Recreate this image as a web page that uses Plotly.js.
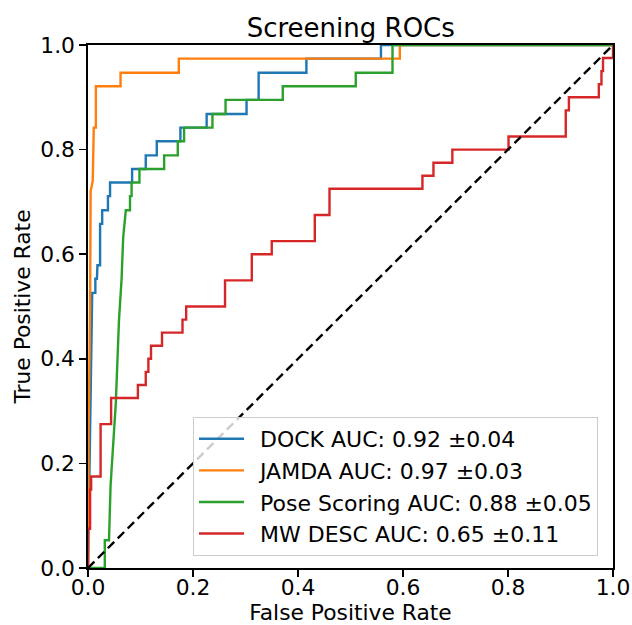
<!DOCTYPE html>
<html>
<head>
<meta charset="utf-8">
<script src="https://cdn.plot.ly/plotly-3.0.1.min.js"></script>
<style>html,body{margin:0;padding:0;background:#fff;}#chart{width:632px;height:625px;}</style>
</head>
<body>
<div id="chart"></div>
<script>
// Series names / legend labels
const seriesNames = ["DOCK AUC: 0.92 ±0.04", "JAMDA AUC: 0.97 ±0.03", "Pose Scoring AUC: 0.88 ±0.05", "MW DESC AUC: 0.65 ±0.11"];
const seriesColors = ["#1f77b4", "#ff7f0e", "#2ca02c", "#d62728"];

// DOCK ROC
const dockFpr = [0, 0.007, 0.008, 0.014, 0.014, 0.017, 0.018, 0.023, 0.023, 0.027, 0.027, 0.038, 0.038, 0.042, 0.042, 0.084, 0.084, 0.110, 0.110, 0.131, 0.131, 0.176, 0.176, 0.226, 0.226, 0.302, 0.302, 0.325, 0.325, 0.416, 0.416, 0.558, 0.558, 1.0];
const dockTpr = [0, 0.447, 0.526, 0.526, 0.553, 0.553, 0.579, 0.579, 0.658, 0.658, 0.684, 0.684, 0.711, 0.711, 0.737, 0.737, 0.763, 0.763, 0.789, 0.789, 0.816, 0.816, 0.842, 0.842, 0.868, 0.868, 0.895, 0.895, 0.947, 0.947, 0.974, 0.974, 1.0, 1.0];

// JAMDA ROC
const jamdaFpr = [0, 0.001, 0.004, 0.005, 0.009, 0.011, 0.015, 0.015, 0.062, 0.062, 0.173, 0.173, 0.594, 0.594, 1.0];
const jamdaTpr = [0, 0.25, 0.5, 0.72, 0.74, 0.842, 0.842, 0.921, 0.921, 0.947, 0.947, 0.974, 0.974, 1.0, 1.0];

// Pose Scoring ROC
const poseFpr = [0, 0.032, 0.032, 0.040, 0.043, 0.048, 0.053, 0.059, 0.064, 0.067, 0.072, 0.080, 0.080, 0.083, 0.083, 0.098, 0.098, 0.145, 0.145, 0.171, 0.171, 0.183, 0.183, 0.237, 0.237, 0.262, 0.262, 0.371, 0.371, 0.510, 0.510, 0.580, 0.580, 1.0];
const poseTpr = [0, 0, 0.053, 0.053, 0.158, 0.25, 0.316, 0.474, 0.553, 0.632, 0.684, 0.684, 0.711, 0.711, 0.737, 0.737, 0.763, 0.763, 0.789, 0.789, 0.816, 0.816, 0.842, 0.842, 0.868, 0.868, 0.895, 0.895, 0.921, 0.921, 0.947, 0.947, 1.0, 1.0];

// MW DESC ROC
const mwFpr = [0, 0, 0.004, 0.004, 0.006, 0.006, 0.024, 0.024, 0.044, 0.044, 0.095, 0.095, 0.110, 0.110, 0.115, 0.115, 0.120, 0.120, 0.141, 0.141, 0.180, 0.180, 0.187, 0.187, 0.261, 0.261, 0.312, 0.312, 0.350, 0.350, 0.432, 0.432, 0.460, 0.460, 0.637, 0.637, 0.658, 0.658, 0.694, 0.694, 0.801, 0.801, 0.910, 0.910, 0.916, 0.916, 0.973, 0.973, 0.978, 0.978, 0.981, 0.981, 1.0, 1.0];
const mwTpr = [0, 0.075, 0.075, 0.15, 0.15, 0.175, 0.175, 0.275, 0.275, 0.325, 0.325, 0.35, 0.35, 0.375, 0.375, 0.4, 0.4, 0.425, 0.425, 0.45, 0.45, 0.475, 0.475, 0.5, 0.5, 0.55, 0.55, 0.6, 0.6, 0.625, 0.625, 0.675, 0.675, 0.725, 0.725, 0.75, 0.75, 0.775, 0.775, 0.8, 0.8, 0.825, 0.825, 0.875, 0.875, 0.9, 0.9, 0.925, 0.925, 0.95, 0.95, 0.975, 0.975, 1.0];

// Chance diagonal
const diagX = [0, 1];
const diagY = [0, 1];

// Axis ticks
const tickVals = [0, 0.2, 0.4, 0.6, 0.8, 1.0];
const tickText = ["0.0", "0.2", "0.4", "0.6", "0.8", "1.0"];

const FONT = "DejaVu Sans, sans-serif";
const xs = [dockFpr, jamdaFpr, poseFpr, mwFpr];
const ys = [dockTpr, jamdaTpr, poseTpr, mwTpr];

const traces = xs.map((x, i) => ({
  x: x, y: ys[i], type: "scatter", mode: "lines", name: "\u2002" + seriesNames[i],
  line: {color: seriesColors[i], width: 2.4}
}));
traces.push({x: diagX, y: diagY, type: "scatter", mode: "lines", showlegend: false,
  line: {color: "#000000", width: 2.4, dash: "9px,5px"}});

const axisCommon = {
  range: [0, 1], tickvals: tickVals, ticktext: tickText,
  showline: true, mirror: true, linecolor: "#000", linewidth: 1.7,
  ticks: "outside", ticklen: 7, tickwidth: 1.5, tickcolor: "#000",
  showgrid: false, zeroline: false, fixedrange: true, layer: "above traces",
  tickfont: {family: FONT, size: 21.8, color: "#000"}
};

const layout = {
  width: 632, height: 625,
  margin: {l: 88, r: 19, t: 45, b: 57},
  paper_bgcolor: "#fff", plot_bgcolor: "#fff",
  title: {text: "Screening ROCs", font: {family: FONT, size: 26, color: "#000"},
    x: 0.555, xanchor: "center", y: 1 - 28/625, yanchor: "middle", yref: "container"},
  xaxis: Object.assign({}, axisCommon, {ticklabelstandoff: -8,
    title: {text: "False Positive Rate", font: {family: FONT, size: 21.8, color: "#000"}, standoff: 2}}),
  yaxis: Object.assign({}, axisCommon, {
    title: {text: "True Positive Rate", font: {family: FONT, size: 21.8, color: "#000"}, standoff: 3}}),
  showlegend: true,
  legend: {x: 0.2, y: 0.023, xanchor: "left", yanchor: "bottom",
    bgcolor: "rgba(255,255,255,0.8)", bordercolor: "#cccccc", borderwidth: 1,
    font: {family: FONT, size: 22, color: "#000"}, itemwidth: 45, traceorder: "normal"}
};

Plotly.newPlot("chart", traces, layout, {displayModeBar: false, staticPlot: true});
</script>
</body>
</html>
